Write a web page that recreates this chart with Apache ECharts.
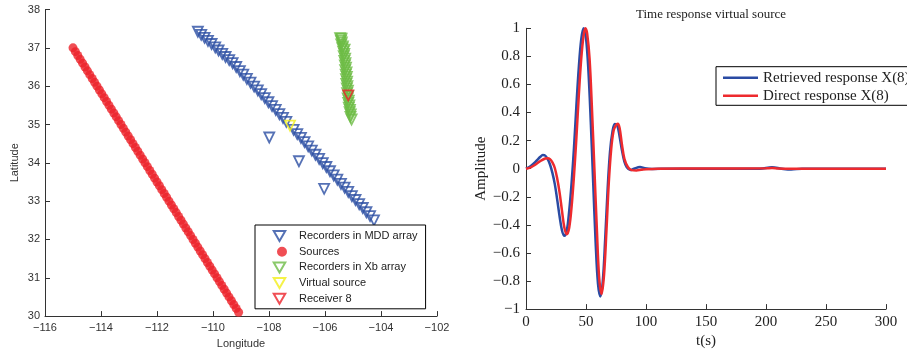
<!DOCTYPE html>
<html><head><meta charset="utf-8">
<script src="https://cdn.jsdelivr.net/npm/echarts@6/dist/echarts.min.js"></script>
<style>html,body{margin:0;padding:0;background:#fff}#c{width:907px;height:354px}</style>
</head><body><div id="c"></div>
<script>
// ---- Left panel: station map ----
const sourceLon = [-115.000,-114.914,-114.829,-114.743,-114.657,-114.571,-114.486,-114.400,-114.314,-114.229,-114.143,-114.057,-113.971,-113.886,-113.800,-113.714,-113.629,-113.543,-113.457,-113.371,-113.286,-113.200,-113.114,-113.029,-112.943,-112.857,-112.771,-112.686,-112.600,-112.514,-112.429,-112.343,-112.257,-112.171,-112.086,-112.000,-111.914,-111.829,-111.743,-111.657,-111.571,-111.486,-111.400,-111.314,-111.229,-111.143,-111.057,-110.971,-110.886,-110.800,-110.714,-110.629,-110.543,-110.457,-110.371,-110.286,-110.200,-110.114,-110.029,-109.943,-109.857,-109.771,-109.686,-109.600,-109.514,-109.429,-109.343,-109.257,-109.171,-109.086];
const sourceLat = [37.0,36.9,36.8,36.7,36.6,36.5,36.4,36.3,36.2,36.1,36.0,35.9,35.8,35.7,35.6,35.5,35.4,35.3,35.2,35.1,35.0,34.9,34.8,34.7,34.6,34.5,34.4,34.3,34.2,34.1,34.0,33.9,33.8,33.7,33.6,33.5,33.4,33.3,33.2,33.1,33.0,32.9,32.8,32.7,32.6,32.5,32.4,32.3,32.2,32.1,32.0,31.9,31.8,31.7,31.6,31.5,31.4,31.3,31.2,31.1,31.0,30.9,30.8,30.7,30.6,30.5,30.4,30.3,30.2,30.1];

const mddLon = [-110.54,-110.42,-110.30,-110.18,-110.05,-109.92,-109.80,-109.67,-109.55,-109.42,
  -109.30,-109.17,-109.04,-108.92,-108.79,-108.66,-108.53,-108.40,-108.28,-108.15,-108.02,-107.89,-107.76,-107.63,-107.50,-107.38,
  -107.12,-106.99,-106.86,-106.73,-106.60,-106.47,-106.34,-106.21,-106.08,-105.95,-105.82,-105.69,-105.56,-105.43,-105.30,-105.17,
  -105.04,-104.91,-104.78,-104.65,-104.52,-104.39,-104.25,
  -107.99,-106.93,-106.03];
const mddLat = [37.42,37.34,37.26,37.18,37.10,37.01,36.93,36.84,36.76,36.68,
  36.60,36.50,36.39,36.30,36.19,36.09,35.99,35.89,35.79,35.69,35.58,35.48,35.38,35.27,35.17,35.07,
  34.86,34.75,34.65,34.54,34.43,34.32,34.21,34.10,33.99,33.89,33.78,33.67,33.56,33.45,33.35,33.24,
  33.13,33.03,32.92,32.82,32.71,32.61,32.50,
  34.66,34.04,33.32];

const xbLon = [-105.46,-105.41,-105.43,-105.40,-105.42,-105.36,-105.38,-105.30,-105.35,-105.31,-105.33,-105.28,-105.31,-105.27,-105.29,-105.25,-105.28,-105.23,-105.26,-105.22,-105.25,-105.21,-105.24,-105.20,-105.22,-105.18,-105.21,-105.17,-105.19,-105.15,-105.17,-105.13,-105.15,-105.11,-105.12,-105.08,-105.09,-105.05];
const xbLat = [37.25,37.24,37.19,37.14,37.09,37.04,36.99,36.95,36.90,36.84,36.78,36.72,36.66,36.60,36.54,36.48,36.42,36.36,36.30,36.24,36.18,36.12,36.06,36.00,35.94,35.88,35.82,35.74,35.68,35.62,35.56,35.50,35.44,35.38,35.32,35.26,35.20,35.13];

const virtualLon = [-107.25];
const virtualLat = [34.97];
const receiverLon = [-105.17];
const receiverLat = [35.76];

// ---- Right panel: waveforms ----
const tRetrieved = [0,4,8,12,14,16,18,20,22,24,26,28,30,32,34,36,38,40,42,44,46,48,50,52,54,56,58,60,62,64,66,68,70,72,74,76,78,80,82,84,87,90,95,99,105,120,150,195,205,213,221,230,260,300];
const ampRetrieved = [0,0.02,0.05,0.085,0.097,0.093,0.07,0.03,-0.03,-0.11,-0.22,-0.34,-0.44,-0.478,-0.44,-0.30,-0.10,0.15,0.45,0.72,0.92,1.0,0.93,0.70,0.33,-0.10,-0.52,-0.82,-0.91,-0.80,-0.50,-0.15,0.12,0.26,0.318,0.31,0.23,0.13,0.05,0.01,-0.01,0.0,0.012,0.003,-0.002,0,0,0,0.01,0.0,-0.006,0,0,0];

const tDirect = [0,4,8,12,16,18,20,22,24,26,28,30,32,34,36,38,40,42,44,46,48,49.5,51,53,55,57,59,61,63,65,67,69,71,73,75,76.5,78,80,82,85,88,92,96,100,110,150,200,205,210,220,260,300];
const ampDirect = [0,0.01,0.03,0.055,0.073,0.075,0.068,0.045,0.005,-0.07,-0.17,-0.30,-0.42,-0.466,-0.42,-0.27,-0.05,0.22,0.52,0.78,0.95,1.0,0.96,0.78,0.42,0.0,-0.42,-0.78,-0.893,-0.76,-0.45,-0.10,0.14,0.27,0.31,0.32,0.29,0.17,0.07,0.01,-0.01,-0.012,-0.008,-0.004,0,0.001,0.003,0.005,0.002,0,0,0];

const zip = (a, b) => a.map((v, i) => [v, b[i]]);
const minus = s => String(s).replace('-', '\u2212');

const SANS = 'Liberation Sans, Arial, sans-serif';
const SERIF = 'Liberation Serif, Times New Roman, serif';
const axisCol = '#333';

const BLUE_M = '#2b4ea3', GREEN_M = '#6dbb45', YELLOW_M = '#f2ef1a', RED_M = '#ec2229';
const triStyle = c => ({ color: 'rgba(255,255,255,0)', borderColor: c, borderWidth: 1.8 });
const TRI_DOWN = 'path://M0,0 L10,0 L5,8.66 Z';
const LINE_ICON = 'path://M0,0 L35,0 L35,2.5 L0,2.5 Z';

const chart = echarts.init(document.getElementById('c'), null, { renderer: 'canvas' });
chart.setOption({
  animation: false,
  backgroundColor: '#fff',
  title: {
    text: 'Time response virtual source',
    left: 706, top: 3, textAlign: 'center',
    textStyle: { fontFamily: SERIF, fontSize: 13, fontWeight: 'normal', color: '#222' }
  },
  grid: [
    { left: 45, top: 9.5, width: 392, height: 309 },
    { left: 526, top: 28.3, width: 360, height: 285.7 }
  ],
  xAxis: [
    { gridIndex: 0, type: 'value', min: -116, max: -102, interval: 2,
      name: 'Longitude', nameLocation: 'middle', nameGap: 19,
      nameTextStyle: { fontFamily: SANS, fontSize: 11, color: axisCol },
      axisLine: { onZero: false, lineStyle: { color: axisCol, width: 1 } },
      axisTick: { inside: true, length: 5, lineStyle: { color: axisCol } },
      axisLabel: { fontFamily: SANS, fontSize: 11, color: axisCol, margin: 6, formatter: v => minus(v) },
      splitLine: { show: false } },
    { gridIndex: 1, type: 'value', min: 0, max: 300, interval: 50,
      name: 't(s)', nameLocation: 'middle', nameGap: 21,
      nameTextStyle: { fontFamily: SERIF, fontSize: 15, color: '#222' },
      axisLine: { onZero: false, lineStyle: { color: axisCol, width: 1 } },
      axisTick: { inside: true, length: 5, lineStyle: { color: axisCol } },
      axisLabel: { fontFamily: SERIF, fontSize: 15, color: '#222', margin: 5 },
      splitLine: { show: false } }
  ],
  yAxis: [
    { gridIndex: 0, type: 'value', min: 30, max: 38, interval: 1,
      name: 'Latitude', nameLocation: 'middle', nameGap: 25,
      nameTextStyle: { fontFamily: SANS, fontSize: 11, color: axisCol },
      axisLine: { onZero: false, lineStyle: { color: axisCol, width: 1 } },
      axisTick: { inside: true, length: 5, lineStyle: { color: axisCol } },
      axisLabel: { fontFamily: SANS, fontSize: 11, color: axisCol, margin: 5 },
      splitLine: { show: false } },
    { gridIndex: 1, type: 'value', min: -1, max: 1, interval: 0.2,
      name: 'Amplitude', nameLocation: 'middle', nameGap: 37,
      nameTextStyle: { fontFamily: SERIF, fontSize: 15, color: '#222' },
      axisLine: { onZero: false, lineStyle: { color: axisCol, width: 1 } },
      axisTick: { inside: true, length: 5, lineStyle: { color: axisCol } },
      axisLabel: { fontFamily: SERIF, fontSize: 15, color: '#222', margin: 6,
        formatter: v => minus(Math.round(v * 10) / 10) },
      splitLine: { show: false } }
  ],
  legend: [
    { left: 255, top: 225, orient: 'vertical', symbolKeepAspect: true,
      data: [
        { name: 'Recorders in MDD array', icon: TRI_DOWN },
        { name: 'Sources', icon: 'path://M0,0 A4,4 0 1 1 0,0.01 Z M-4,-4 M4,4', itemStyle: { color: RED_M } },
        { name: 'Recorders in Xb array', icon: TRI_DOWN },
        { name: 'Virtual source', icon: TRI_DOWN },
        { name: 'Receiver 8', icon: TRI_DOWN }
      ],
      padding: [5, 8, 4, 17], itemWidth: 29, itemHeight: 10, itemGap: 3.7,
      borderColor: '#000', borderWidth: 1, backgroundColor: '#fff',
      textStyle: { fontFamily: SANS, fontSize: 11, lineHeight: 12, color: '#222' } },
    { left: 716, top: 66.7, orient: 'vertical', symbolKeepAspect: true,
      data: [
        { name: 'Retrieved response X(8)', icon: LINE_ICON },
        { name: 'Direct response X(8)', icon: LINE_ICON }
      ],
      padding: [3.6, 6, 2, 7], itemWidth: 35, itemHeight: 14, itemGap: 3,
      borderColor: '#000', borderWidth: 1, backgroundColor: '#fff',
      textStyle: { fontFamily: SERIF, fontSize: 15, lineHeight: 14, color: '#222' } }
  ],
  series: [
    { name: 'Sources', type: 'scatter', xAxisIndex: 0, yAxisIndex: 0,
      data: zip(sourceLon, sourceLat), symbol: 'circle', symbolSize: 9,
      itemStyle: { color: RED_M } },
    { name: 'Recorders in MDD array', type: 'scatter', xAxisIndex: 0, yAxisIndex: 0,
      data: zip(mddLon, mddLat), symbol: 'triangle', symbolRotate: 180, symbolSize: 10,
      itemStyle: triStyle(BLUE_M) },
    { name: 'Recorders in Xb array', type: 'scatter', xAxisIndex: 0, yAxisIndex: 0,
      data: zip(xbLon, xbLat), symbol: 'triangle', symbolRotate: 180, symbolSize: 10,
      itemStyle: triStyle(GREEN_M) },
    { name: 'Virtual source', type: 'scatter', xAxisIndex: 0, yAxisIndex: 0,
      data: zip(virtualLon, virtualLat), symbol: 'triangle', symbolRotate: 180, symbolSize: 10,
      itemStyle: triStyle(YELLOW_M) },
    { name: 'Receiver 8', type: 'scatter', xAxisIndex: 0, yAxisIndex: 0,
      data: zip(receiverLon, receiverLat), symbol: 'triangle', symbolRotate: 180, symbolSize: 10,
      itemStyle: triStyle(RED_M) },
    { name: 'Retrieved response X(8)', type: 'line', xAxisIndex: 1, yAxisIndex: 1,
      data: zip(tRetrieved, ampRetrieved), symbol: 'none', smooth: 0.35,
      lineStyle: { color: '#2a4ba3', width: 2.5 }, itemStyle: { color: '#2a4ba3' } },
    { name: 'Direct response X(8)', type: 'line', xAxisIndex: 1, yAxisIndex: 1,
      data: zip(tDirect, ampDirect), symbol: 'none', smooth: 0.35,
      lineStyle: { color: '#ee2a2e', width: 2.5 }, itemStyle: { color: '#ee2a2e' } }
  ]
});
</script></body></html>
